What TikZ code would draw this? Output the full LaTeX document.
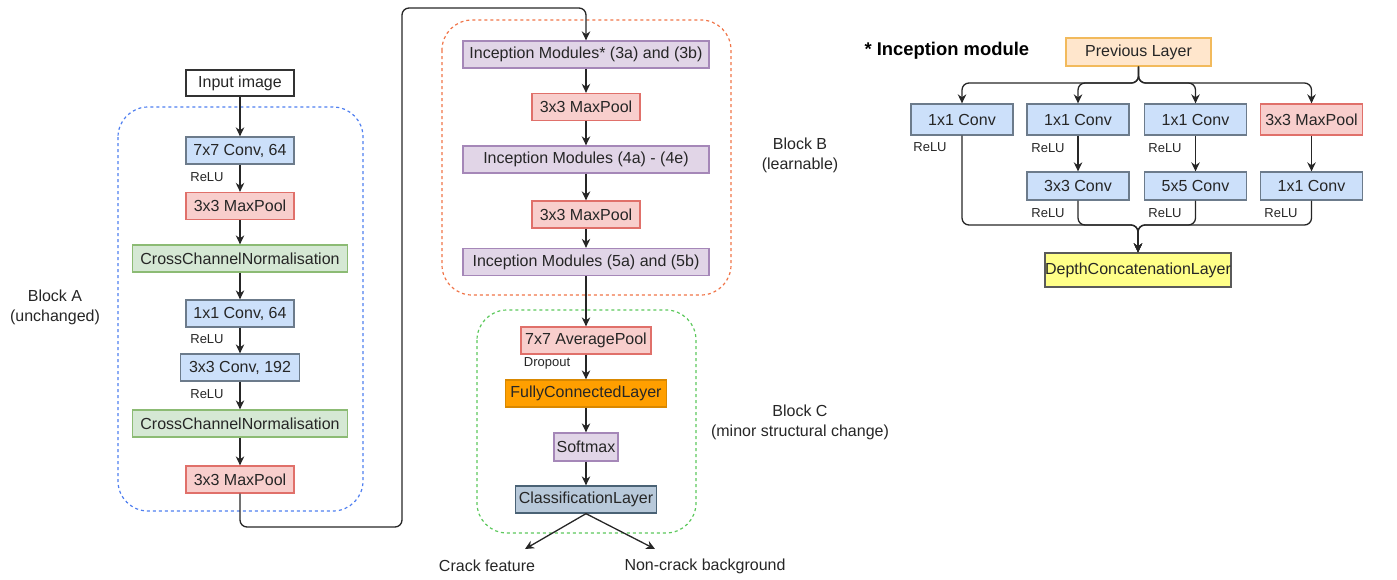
\documentclass[tikz,border=0pt]{standalone}
\usepackage{fontspec}
\setmainfont{Liberation Sans}
\usetikzlibrary{arrows.meta}

\definecolor{convfill}{HTML}{CCE0FA}
\definecolor{convline}{HTML}{6C7B8B}
\definecolor{poolfill}{HTML}{F8CECC}
\definecolor{poolline}{HTML}{E0706A}
\definecolor{normfill}{HTML}{D5E8D4}
\definecolor{normline}{HTML}{8CBB74}
\definecolor{incfill}{HTML}{E1D5E7}
\definecolor{incline}{HTML}{A587B8}
\definecolor{fcfill}{HTML}{FF9F00}
\definecolor{fcline}{HTML}{D98800}
\definecolor{clsfill}{HTML}{B8C9DA}
\definecolor{clsline}{HTML}{4A6275}
\definecolor{prevfill}{HTML}{FFE6CC}
\definecolor{prevline}{HTML}{F2BA5C}
\definecolor{catfill}{HTML}{FFFF88}
\definecolor{catline}{HTML}{5A5A5A}
\definecolor{frameA}{HTML}{4F7FF0}
\definecolor{frameB}{HTML}{F07448}
\definecolor{frameC}{HTML}{5CC85C}

\begin{document}
\begin{tikzpicture}[x=1pt,y=-1pt,
    every node/.style={font=\fontsize{16}{20}\selectfont, text=black!85},
    layer/.style={draw, line width=1.3pt, inner sep=0pt, minimum height=27},
    plain/.style={layer, fill=white, draw=black!80},
    conv/.style={layer, fill=convfill, draw=convline},
    pool/.style={layer, fill=poolfill, draw=poolline},
    norm/.style={layer, fill=normfill, draw=normline},
    inc/.style={layer, fill=incfill, draw=incline},
    lbl/.style={font=\fontsize{13}{15}\selectfont},
    arr/.style={-{Stealth[length=9pt,width=8.5pt]}, line width=1.3pt, black!85},
    frame/.style={dash pattern=on 3pt off 3pt, line width=1.2pt, rounded corners=30}]
\useasboundingbox (0,0) rectangle (1397,579);

% block frames
\draw[frame, draw=frameA] (118,107) rectangle (363,511);
\draw[frame, draw=frameB] (442,20) rectangle (731,295);
\draw[frame, draw=frameC] (477,310) rectangle (696,533);

% block A
\node[plain, minimum width=108, minimum height=26] (input) at (240,83) {Input image};
\node[conv, minimum width=108] (conv7) at (240,150.5) {7x7 Conv, 64};
\node[pool, minimum width=108] (poolA) at (240,206) {3x3 MaxPool};
\node[norm, minimum width=215] (normA) at (240,258.5) {CrossChannelNormalisation};
\node[conv, minimum width=108] (conv1) at (240,313.5) {1x1 Conv, 64};
\node[conv, minimum width=119] (conv3) at (240,367.5) {3x3 Conv, 192};
\node[norm, minimum width=215] (normB) at (240,423.5) {CrossChannelNormalisation};
\node[pool, minimum width=108] (poolB) at (240,479.5) {3x3 MaxPool};
\node[lbl] at (207,177) {ReLU};
\node[lbl] at (207,339) {ReLU};
\node[lbl] at (207,394) {ReLU};
\node[align=center] (labA) at (55,307) {Block A\\(unchanged)};

\draw[arr] (input) -- (conv7);
\draw[arr] (conv7) -- (poolA);
\draw[arr] (poolA) -- (normA);
\draw[arr] (normA) -- (conv1);
\draw[arr] (conv1) -- (conv3);
\draw[arr] (conv3) -- (normB);
\draw[arr] (normB) -- (poolB);

% block B
\node[inc, minimum width=246] (incA) at (586,54.5) {Inception Modules* (3a) and (3b)};
\node[pool, minimum width=108] (poolC) at (586,107) {3x3 MaxPool};
\node[inc, minimum width=246] (incB) at (586,159.5) {Inception Modules (4a) - (4e)};
\node[pool, minimum width=108] (poolD) at (586,214.5) {3x3 MaxPool};
\node[inc, minimum width=246] (incC) at (586,262) {Inception Modules (5a) and (5b)};
\node[align=center] (labB) at (800,155) {Block B\\(learnable)};

\coordinate (turnA) at (402,527);
\coordinate (turnB) at (402,8);
\draw[arr, rounded corners=7] (poolB.south) |- (turnA) -- (turnB) -| (incA.north);
\draw[arr] (incA) -- (poolC);
\draw[arr] (poolC) -- (incB);
\draw[arr] (incB) -- (poolD);
\draw[arr] (poolD) -- (incC);

% block C
\node[pool, minimum width=130] (avg) at (586,340.5) {7x7 AveragePool};
\node[layer, fill=fcfill, draw=fcline, minimum width=161] (fc) at (586,393.5) {FullyConnectedLayer};
\node[inc, minimum width=64, minimum height=28] (soft) at (586,447) {Softmax};
\node[layer, fill=clsfill, draw=clsline, minimum width=141] (cls) at (586,499.5) {ClassificationLayer};
\node[lbl] at (547,363) {Dropout};
\node[align=center] (labC) at (800,422) {Block C\\(minor structural change)};

\draw[arr] (incC) -- (avg);
\draw[arr] (avg) -- (fc);
\draw[arr] (fc) -- (soft);
\draw[arr] (soft) -- (cls);

\coordinate (crack) at (525,549);
\coordinate (back) at (655,549);
\draw[arr] (cls.south) -- (crack);
\draw[arr] (cls.south) -- (back);
\node (crackTxt) at (487,566) {Crack feature};
\node (backTxt) at (705,566) {Non-crack background};

% inception module
\node[anchor=west, font=\fontsize{18.4}{22}\selectfont\bfseries, text=black] (title) at (861,51) {* Inception module};
\node[layer, fill=prevfill, draw=prevline, minimum width=145, minimum height=28] (prev) at (1138.5,52) {Previous Layer};
\node[conv, minimum width=102, minimum height=31] (c1) at (962,119.5) {1x1 Conv};
\node[conv, minimum width=102, minimum height=31] (r3) at (1078,119.5) {1x1 Conv};
\node[conv, minimum width=102, minimum height=31] (r5) at (1195.5,119.5) {1x1 Conv};
\node[pool, minimum width=102, minimum height=31] (mp) at (1311.5,119.5) {3x3 MaxPool};
\node[conv, minimum width=102, minimum height=28] (c3) at (1078,186) {3x3 Conv};
\node[conv, minimum width=102, minimum height=28] (c5) at (1195.5,186) {5x5 Conv};
\node[conv, minimum width=102, minimum height=28] (cp) at (1311.5,186) {1x1 Conv};
\node[layer, fill=catfill, draw=catline, minimum width=186, minimum height=34] (cat) at (1138,270) {DepthConcatenationLayer};
\node[lbl] at (930,147) {ReLU};
\node[lbl] at (1048,148) {ReLU};
\node[lbl] at (1165,148) {ReLU};
\node[lbl] at (1048,213) {ReLU};
\node[lbl] at (1165,213) {ReLU};
\node[lbl] at (1281,213) {ReLU};

\coordinate (split) at (1138.5,83);
\coordinate (merge) at (1138,225);
\foreach \b in {c1,r3,r5,mp}
  \draw[arr, rounded corners=7] (prev.south) |- (split -| \b.north) -- (\b.north);
\draw[arr] (r3) -- (c3);
\draw[arr] (r5) -- (c5);
\draw[arr] (mp) -- (cp);
\foreach \b in {c1,c3,c5,cp}
  \draw[arr, rounded corners=7] (\b.south) |- (merge) -- (cat.north);
\end{tikzpicture}
\end{document}
